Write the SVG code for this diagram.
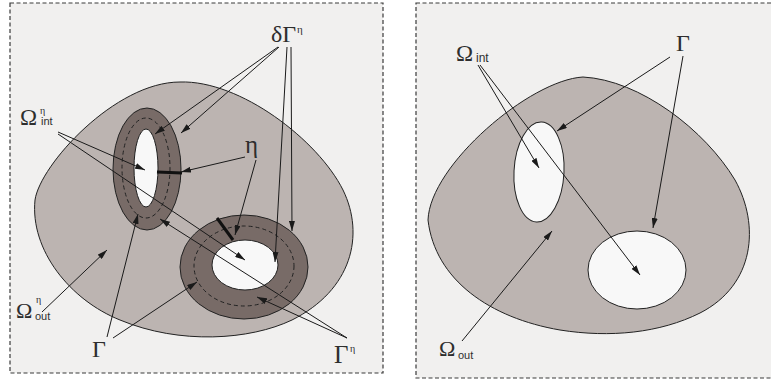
<svg xmlns="http://www.w3.org/2000/svg" width="771" height="381" viewBox="0 0 771 381">
<defs>
<marker id="ah" viewBox="0 0 10 6" refX="10" refY="3" markerWidth="10" markerHeight="6" markerUnits="userSpaceOnUse" orient="auto">
<path d="M0,0 L10,3 L0,6 Z" fill="#1a1a1a"/>
</marker>
<style>
.panel{fill:#f1f0ef;stroke:#3a3a3a;stroke-width:1.2;stroke-dasharray:4,2.5}
.blob{fill:#bcb4b1;stroke:#222;stroke-width:1}
.ring{fill:#786b67;stroke:#222;stroke-width:1}
.hole{fill:#f8f8f8;stroke:#222;stroke-width:1}
.dash{fill:none;stroke:#222;stroke-width:1;stroke-dasharray:4,3}
.thick{stroke:#111;stroke-width:3}
.c line{stroke:#1a1a1a;stroke-width:1;marker-end:url(#ah)}
.g{font-family:"Liberation Serif","DejaVu Serif",serif;fill:#2e2e2e}
.s{font-family:"Liberation Sans",Arial,sans-serif;fill:#2e2e2e}
</style>
</defs>
<rect x="0" y="0" width="771" height="381" fill="#ffffff"/>
<g id="left-panel">
<rect class="panel" x="10" y="3" width="373" height="370"/>
<path id="left-blob" class="blob" d="M180,82 C240,80 318,140 343,190 C365,235 352,290 292,320 C250,340 180,345 120,320 C70,300 30,250 35,200 C40,165 115,82 180,82 Z"/>
<g id="small-ring">
<ellipse class="ring" cx="147" cy="169" rx="34" ry="61"/>
<ellipse class="dash" cx="146" cy="168" rx="24" ry="50"/>
<ellipse class="hole" cx="146" cy="168" rx="12" ry="39"/>
<line class="thick" x1="157" y1="172" x2="182" y2="173"/>
</g>
<g id="large-ring">
<ellipse class="ring" cx="244" cy="267" rx="64" ry="52"/>
<ellipse class="dash" cx="244" cy="266" rx="50" ry="40"/>
<ellipse class="hole" cx="245" cy="265" rx="33" ry="25"/>
<line class="thick" x1="217" y1="218" x2="233" y2="240"/>
</g>
</g>
<g id="right-panel">
<rect class="panel" x="416" y="3" width="370" height="375"/>
<path id="right-blob" class="blob" d="M583,77 C640,80 705,130 735,180 C760,225 755,285 700,313 C660,333 610,338 560,330 C490,318 435,280 428,220 C430,165 530,80 583,77 Z"/>
<ellipse id="right-small-hole" class="hole" cx="539" cy="172" rx="25" ry="50" transform="rotate(3 539 172)"/>
<ellipse id="right-large-hole" class="hole" cx="637" cy="270" rx="49" ry="39"/>
</g>
<g id="connectors" class="c">
<line x1="278" y1="47" x2="155" y2="134"/>
<line x1="279" y1="47" x2="181" y2="133"/>
<line x1="287" y1="47" x2="275" y2="262"/>
<line x1="291" y1="47" x2="292" y2="231"/>
<line x1="58" y1="132" x2="145" y2="170"/>
<line x1="58" y1="134" x2="245" y2="260"/>
<line x1="245" y1="157" x2="181" y2="172"/>
<line x1="256" y1="160" x2="235" y2="235"/>
<line x1="42" y1="312" x2="107" y2="250"/>
<line x1="107" y1="337" x2="138" y2="214"/>
<line x1="113" y1="338" x2="197" y2="282"/>
<line x1="347" y1="338" x2="160" y2="219"/>
<line x1="347" y1="338" x2="257" y2="297"/>
<line x1="478" y1="65" x2="539" y2="168"/>
<line x1="480" y1="65" x2="640" y2="275"/>
<line x1="670" y1="57" x2="557" y2="131"/>
<line x1="683" y1="56" x2="653" y2="228"/>
<line x1="462" y1="341" x2="552" y2="231"/>
</g>
<g id="labels">
<g id="lbl-dGeta"><text class="g" x="271" y="42" font-size="24">δΓ</text><text class="g" x="297" y="33" font-size="11">η</text></g>
<g id="lbl-Oint-eta"><text class="g" x="20" y="125" font-size="23">Ω</text><text class="g" x="40" y="114" font-size="10">η</text><text class="s" x="41" y="125" font-size="11">int</text></g>
<g id="lbl-eta"><text class="g" x="245" y="153" font-size="25">η</text></g>
<g id="lbl-Oout-eta"><text class="g" x="16" y="318" font-size="22">Ω</text><text class="g" x="36" y="303" font-size="10">η</text><text class="s" x="35" y="320" font-size="11">out</text></g>
<g id="lbl-G"><text class="g" x="92" y="357" font-size="24">Γ</text></g>
<g id="lbl-Geta"><text class="g" x="334" y="363" font-size="25">Γ</text><text class="g" x="350" y="352" font-size="10">η</text></g>
<g id="lbl-Oint"><text class="g" x="456" y="61" font-size="23">Ω</text><text class="s" x="476" y="62" font-size="12">int</text></g>
<g id="lbl-G-right"><text class="g" x="676" y="51" font-size="24">Γ</text></g>
<g id="lbl-Oout"><text class="g" x="439" y="356" font-size="22">Ω</text><text class="s" x="458" y="359" font-size="11">out</text></g>
</g>
</svg>
